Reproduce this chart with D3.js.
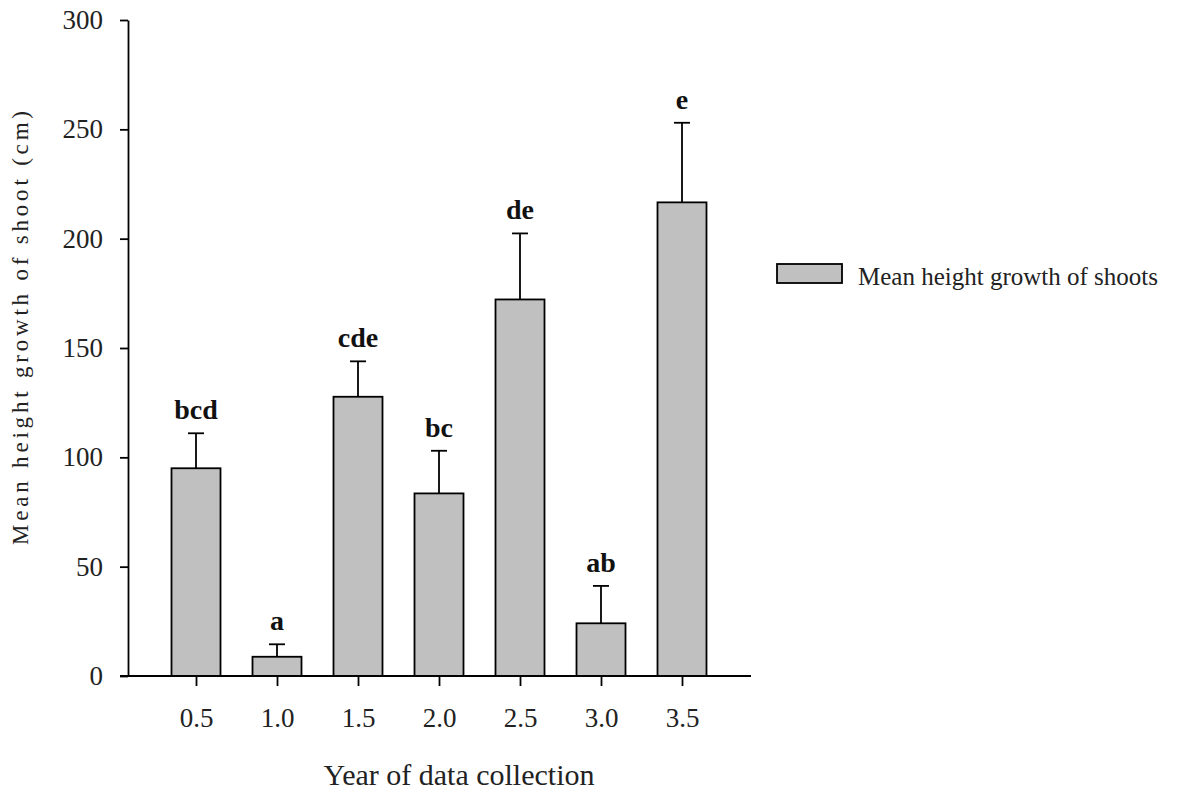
<!DOCTYPE html>
<html><head><meta charset="utf-8">
<script src="https://cdn.jsdelivr.net/npm/d3@7"></script>
<style>body{margin:0;background:#fff}svg{display:block}</style>
</head><body>
<script>
const categories = ["0.5","1.0","1.5","2.0","2.5","3.0","3.5"];
const means = [95.0, 8.8, 127.7, 83.5, 172.2, 24.1, 216.6];
const errors = [16.0, 5.7, 16.2, 19.5, 30.2, 17.1, 36.4];
const letters = ["bcd","a","cde","bc","de","ab","e"];
const yTicks = [0,50,100,150,200,250,300];
const seriesName = "Mean height growth of shoots";

const W=1190,H=794;
const svg=d3.select("body").append("svg").attr("width",W).attr("height",H);
const font="'Liberation Serif','Times New Roman',serif";

const x0=128, x1=751, yTop=20, yBot=676;
const x=d3.scalePoint().domain(categories).range([196,682]);
const y=d3.scaleLinear().domain([0,300]).range([yBot,yTop]);
const bw=49;

// bars
svg.selectAll("rect.bar").data(categories).join("rect")
  .attr("x",d=>x(d)-bw/2).attr("width",bw)
  .attr("y",(d,i)=>y(means[i])).attr("height",(d,i)=>y(0)-y(means[i]))
  .attr("fill","#c0c0c0").attr("stroke","#000").attr("stroke-width",1.8);

// error bars
svg.selectAll("line.err").data(categories).join("line")
  .attr("x1",d=>x(d)).attr("x2",d=>x(d))
  .attr("y1",(d,i)=>y(means[i])).attr("y2",(d,i)=>y(means[i]+errors[i]))
  .attr("stroke","#000").attr("stroke-width",1.8);
svg.selectAll("line.cap").data(categories).join("line")
  .attr("x1",d=>x(d)-8).attr("x2",d=>x(d)+8)
  .attr("y1",(d,i)=>y(means[i]+errors[i])).attr("y2",(d,i)=>y(means[i]+errors[i]))
  .attr("stroke","#000").attr("stroke-width",1.8);

// letters
svg.selectAll("text.lt").data(categories).join("text")
  .attr("x",d=>x(d)).attr("y",(d,i)=>y(means[i]+errors[i])-14)
  .attr("text-anchor","middle").attr("font-family",font).attr("font-weight","bold")
  .attr("font-size",28).attr("fill","#111").text((d,i)=>letters[i]);

// y axis
const yAxis=svg.append("g").attr("transform",`translate(${x0},0)`)
  .call(d3.axisLeft(y).tickValues(yTicks).tickSize(8).tickPadding(17).tickSizeOuter(0));
yAxis.select(".domain").attr("stroke-width",1.8);
yAxis.selectAll(".tick line").attr("stroke-width",1.8);
yAxis.selectAll("text").attr("font-family",font).attr("font-size",27).attr("fill","#222");

// x axis
svg.append("line").attr("x1",x0-8).attr("x2",x1).attr("y1",yBot).attr("y2",yBot)
  .attr("stroke","#000").attr("stroke-width",1.8);
const xAx=svg.append("g").attr("transform",`translate(0,${yBot})`)
  .call(d3.axisBottom(x).tickSize(10).tickPadding(22).tickSizeOuter(0));
xAx.select(".domain").remove();
xAx.selectAll(".tick line").attr("stroke-width",1.8);
xAx.selectAll("text").attr("font-family",font).attr("font-size",27).attr("fill","#222");

// axis titles
svg.append("text").attr("x",459).attr("y",785).attr("text-anchor","middle")
  .attr("font-family",font).attr("font-size",30).attr("fill","#222").text("Year of data collection");
svg.append("text").attr("transform","translate(28,328) rotate(-90)").attr("text-anchor","middle")
  .attr("font-family",font).attr("font-size",23).attr("fill","#222")
  .attr("textLength",434).attr("lengthAdjust","spacing")
  .text("Mean height growth of shoot (cm)");

// legend
svg.append("rect").attr("x",777).attr("y",264).attr("width",65).attr("height",19)
  .attr("fill","#c0c0c0").attr("stroke","#000").attr("stroke-width",1.8);
svg.append("text").attr("x",858).attr("y",285).attr("font-family",font).attr("font-size",25)
  .attr("fill","#222").text(seriesName);
</script>
</body></html>
